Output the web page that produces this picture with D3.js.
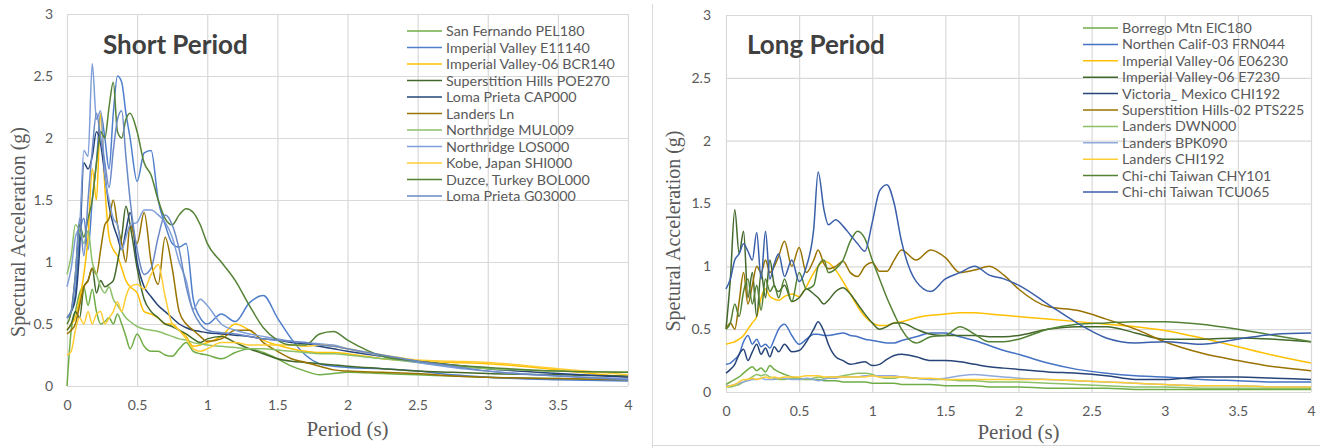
<!DOCTYPE html>
<html>
<head>
<meta charset="utf-8">
<script src="https://cdn.jsdelivr.net/npm/d3@7"></script>
<style>
  body { margin: 0; background: #fff; }
  svg text { font-family: Lato, "Open Sans", sans-serif; }
</style>
</head>
<body>
<div id="chart"></div>
<script>
// ---- data ----
const xTicks = [0, 0.5, 1, 1.5, 2, 2.5, 3, 3.5, 4];
const yTicks = [0, 0.5, 1, 1.5, 2, 2.5, 3];

// short period panel
const periodsShort = [0, 0.03, 0.06, 0.09, 0.12, 0.15, 0.18, 0.21, 0.24, 0.27,
  0.3, 0.33, 0.36, 0.39, 0.42, 0.45, 0.5, 0.55, 0.6, 0.65,
  0.7, 0.75, 0.8, 0.85, 0.9, 0.95, 1.0, 1.1, 1.2, 1.3,
  1.4, 1.5, 1.6, 1.7, 1.8, 1.9, 2.0, 2.25, 2.5, 2.75,
  3.0, 3.5, 4.0];

const sanFernando = [0.0,0.45,0.6,0.75,0.8,0.65,0.78,0.6,0.5,0.52, 0.55,0.5,0.58,0.5,0.4,0.3,0.42,0.32,0.28,0.28, 0.25,0.24,0.3,0.35,0.28,0.26,0.25,0.22,0.27,0.3, 0.27,0.22,0.16,0.12,0.09,0.1,0.11,0.1,0.09,0.08, 0.07,0.06,0.05];
const imperialE11140 = [0.55,0.6,0.75,1.2,1.35,1.1,1.5,1.8,2.2,2.0, 1.75,2.2,2.5,2.45,2.2,2.0,1.65,1.88,1.9,1.5, 1.3,1.15,1.12,1.15,0.7,0.55,0.5,0.58,0.52,0.67, 0.73,0.55,0.38,0.25,0.18,0.16,0.15,0.14,0.12,0.09, 0.07,0.05,0.04];
const imperialBCR140 = [0.45,0.5,0.55,0.7,0.9,1.2,1.75,1.5,2.2,1.6, 1.2,1.1,1.05,0.95,0.85,0.8,0.75,0.6,0.58,0.55, 0.5,0.5,0.45,0.4,0.32,0.33,0.35,0.4,0.5,0.45, 0.37,0.33,0.3,0.28,0.27,0.27,0.26,0.22,0.2,0.19, 0.18,0.13,0.07];
const superstitionPOE270 = [0.45,0.5,0.6,0.55,0.8,0.85,0.95,0.75,0.85,0.8, 0.82,0.85,1.0,1.2,1.45,1.3,0.95,0.7,0.6,0.55, 0.5,0.48,0.45,0.42,0.38,0.35,0.38,0.4,0.35,0.3, 0.26,0.22,0.2,0.19,0.18,0.17,0.16,0.14,0.12,0.11, 0.1,0.09,0.08];
const lomaCAP000 = [0.55,0.6,0.7,1.1,1.8,1.75,1.85,2.05,1.95,1.7, 1.45,1.3,1.2,1.1,1.25,1.4,1.0,0.8,0.72,0.65, 0.6,0.55,0.5,0.47,0.45,0.44,0.43,0.42,0.41,0.4, 0.38,0.37,0.35,0.34,0.32,0.3,0.28,0.24,0.2,0.17, 0.14,0.1,0.07];
const landersLn = [0.42,0.45,0.5,0.65,0.8,0.85,0.95,0.9,1.1,1.3, 1.35,1.5,1.3,1.15,1.0,1.3,1.15,1.4,1.0,0.82, 1.2,0.95,0.6,0.5,0.45,0.4,0.36,0.38,0.45,0.45, 0.35,0.28,0.22,0.19,0.16,0.13,0.12,0.11,0.1,0.08, 0.07,0.06,0.05];
const northridgeMUL009 = [0.9,1.05,1.3,1.25,1.15,1.25,1.0,0.9,0.8,0.75, 0.8,0.7,0.65,0.6,0.55,0.52,0.48,0.46,0.45,0.44, 0.42,0.4,0.38,0.37,0.35,0.34,0.33,0.32,0.31,0.3, 0.3,0.29,0.28,0.27,0.26,0.26,0.25,0.22,0.19,0.16, 0.14,0.12,0.11];
const northridgeLOS000 = [0.8,0.95,1.2,1.3,1.9,1.85,2.6,2.15,2.22,1.7, 1.5,1.35,1.3,1.1,1.2,1.3,1.32,1.42,1.42,1.38, 1.32,1.2,1.0,0.85,0.62,0.7,0.65,0.5,0.45,0.42, 0.4,0.38,0.36,0.35,0.34,0.33,0.3,0.24,0.19,0.15, 0.12,0.08,0.06];
const kobeSHI000 = [0.25,0.28,0.45,0.55,0.5,0.6,0.5,0.58,0.6,0.5, 0.55,0.6,0.68,0.6,0.72,0.8,0.82,0.78,0.9,0.98, 0.72,0.5,0.45,0.38,0.3,0.28,0.3,0.35,0.35,0.33, 0.33,0.33,0.33,0.32,0.33,0.32,0.3,0.25,0.21,0.2, 0.19,0.14,0.09];
const duzceBOL000 = [0.5,0.6,0.9,1.3,1.2,1.35,1.5,1.8,2.05,2.0, 2.25,2.45,2.05,2.0,2.15,2.2,2.05,1.8,1.7,1.5, 1.35,1.3,1.38,1.43,1.4,1.3,1.15,1.0,0.85,0.65, 0.47,0.37,0.33,0.33,0.42,0.44,0.37,0.24,0.2,0.17, 0.15,0.12,0.11];
const lomaG03000 = [0.55,0.6,0.9,1.35,1.05,1.5,1.9,2.2,2.0,1.8, 1.6,1.9,2.15,2.22,1.85,1.5,1.1,0.9,0.95,1.2, 1.38,1.3,1.1,0.8,0.6,0.5,0.45,0.43,0.42,0.4, 0.38,0.37,0.36,0.35,0.33,0.32,0.3,0.25,0.2,0.16, 0.12,0.08,0.05];

const namesShort = ["San Fernando PEL180", "Imperial Valley E11140", "Imperial Valley-06 BCR140",
  "Superstition Hills POE270", "Loma Prieta CAP000", "Landers Ln", "Northridge MUL009",
  "Northridge LOS000", "Kobe, Japan SHI000", "Duzce, Turkey BOL000", "Loma Prieta G03000"];
const valuesShort = [sanFernando, imperialE11140, imperialBCR140, superstitionPOE270, lomaCAP000,
  landersLn, northridgeMUL009, northridgeLOS000, kobeSHI000, duzceBOL000, lomaG03000];

// long period panel
const periodsLong = [0, 0.03, 0.06, 0.09, 0.12, 0.15, 0.18, 0.21, 0.24, 0.27,
  0.3, 0.33, 0.36, 0.4, 0.45, 0.5, 0.55, 0.6, 0.63, 0.67,
  0.7, 0.75, 0.8, 0.85, 0.9, 0.95, 1.0, 1.05, 1.1, 1.15,
  1.2, 1.3, 1.4, 1.5, 1.6, 1.7, 1.8, 1.9, 2.0, 2.2,
  2.4, 2.6, 2.8, 3.0, 3.25, 3.5, 3.75, 4.0];

const borregoElC180 = [0.06,0.08,0.1,0.12,0.15,0.18,0.2,0.17,0.19,0.16, 0.21,0.18,0.16,0.14,0.12,0.11,0.1,0.1,0.1,0.09, 0.09,0.09,0.08,0.08,0.08,0.08,0.07,0.07,0.07,0.07, 0.06,0.06,0.06,0.05,0.05,0.05,0.04,0.04,0.04,0.03, 0.03,0.03,0.02,0.02,0.02,0.02,0.02,0.02];
const northenFRN044 = [0.22,0.23,0.26,0.3,0.4,0.45,0.38,0.42,0.36,0.38, 0.35,0.42,0.5,0.54,0.45,0.38,0.42,0.46,0.46,0.45, 0.45,0.46,0.47,0.45,0.44,0.42,0.41,0.4,0.39,0.39, 0.41,0.44,0.47,0.47,0.44,0.41,0.37,0.33,0.3,0.23, 0.18,0.15,0.13,0.12,0.1,0.09,0.08,0.08];
const imperialE06230 = [0.38,0.39,0.4,0.42,0.45,0.5,0.55,0.6,0.75,0.82, 0.76,0.74,0.73,0.76,0.78,0.76,0.84,0.95,1.0,1.04, 1.03,0.97,0.88,0.78,0.68,0.6,0.55,0.53,0.53,0.55, 0.56,0.59,0.61,0.62,0.63,0.63,0.62,0.61,0.6,0.58, 0.56,0.54,0.52,0.49,0.43,0.36,0.29,0.23];
const imperialE7230 = [0.5,0.9,1.45,1.1,1.28,0.75,0.95,0.6,0.95,0.75, 1.05,0.85,0.8,0.85,0.72,0.75,0.82,0.78,0.75,0.7, 0.73,0.8,0.83,0.78,0.7,0.62,0.55,0.5,0.52,0.55, 0.55,0.5,0.46,0.45,0.45,0.45,0.44,0.44,0.45,0.5, 0.52,0.52,0.47,0.42,0.42,0.43,0.42,0.4];
const victoriaCHI192 = [0.15,0.18,0.22,0.3,0.34,0.25,0.32,0.38,0.3,0.35, 0.28,0.36,0.32,0.38,0.32,0.33,0.4,0.5,0.56,0.48, 0.38,0.28,0.25,0.22,0.23,0.24,0.21,0.22,0.26,0.29, 0.3,0.28,0.25,0.25,0.24,0.22,0.2,0.19,0.18,0.16, 0.15,0.13,0.1,0.1,0.12,0.12,0.11,0.1];
const superstitionPTS225 = [0.5,0.55,0.5,0.72,0.95,0.7,0.85,1.0,0.95,1.05, 0.95,1.0,1.08,1.2,1.0,1.15,0.95,1.05,1.13,1.02, 0.98,1.0,1.04,0.95,0.92,1.0,1.03,0.96,0.96,1.05, 1.13,1.05,1.13,1.07,0.95,0.97,1.0,0.93,0.82,0.68, 0.65,0.58,0.5,0.4,0.31,0.25,0.2,0.17];
const landersDWN000 = [0.04,0.04,0.05,0.06,0.08,0.1,0.12,0.14,0.13,0.14, 0.12,0.11,0.1,0.1,0.11,0.1,0.1,0.11,0.12,0.11, 0.12,0.12,0.13,0.14,0.15,0.15,0.14,0.12,0.11,0.11, 0.12,0.11,0.1,0.1,0.09,0.09,0.08,0.08,0.08,0.07, 0.06,0.05,0.04,0.04,0.03,0.03,0.03,0.03];
const landersBPK090 = [0.05,0.05,0.06,0.07,0.08,0.09,0.1,0.1,0.11,0.1, 0.1,0.1,0.11,0.11,0.1,0.1,0.11,0.1,0.09,0.1, 0.11,0.11,0.12,0.12,0.12,0.13,0.13,0.13,0.13,0.13, 0.12,0.11,0.1,0.11,0.13,0.14,0.13,0.12,0.11,0.1, 0.09,0.08,0.07,0.06,0.05,0.05,0.04,0.04];
const landersCHI192 = [0.04,0.05,0.06,0.08,0.1,0.1,0.11,0.1,0.11,0.12, 0.11,0.12,0.11,0.12,0.12,0.12,0.13,0.13,0.13,0.12, 0.12,0.12,0.12,0.12,0.12,0.12,0.13,0.12,0.12,0.12, 0.12,0.11,0.11,0.1,0.1,0.1,0.1,0.1,0.1,0.1, 0.09,0.08,0.07,0.06,0.05,0.05,0.04,0.04];
const chichiCHY101 = [0.5,0.55,0.7,0.6,0.8,0.9,0.7,0.85,0.65,0.9, 0.8,0.85,0.75,0.9,0.72,0.95,0.82,0.85,1.0,1.05, 0.95,0.98,1.05,1.2,1.28,1.22,1.05,0.9,0.75,0.62, 0.5,0.39,0.44,0.45,0.52,0.46,0.4,0.4,0.42,0.5, 0.54,0.55,0.56,0.56,0.54,0.5,0.45,0.4];
const chichiTCU065 = [0.82,0.9,1.05,1.1,1.18,1.12,1.05,1.27,0.9,1.28, 0.9,1.02,1.1,0.92,1.05,0.88,1.0,1.3,1.75,1.45, 1.33,1.37,1.32,1.25,1.18,1.12,1.35,1.6,1.65,1.5, 1.2,0.88,0.8,0.9,0.95,1.0,0.93,0.9,0.85,0.7, 0.55,0.43,0.39,0.4,0.38,0.42,0.46,0.47];

const namesLong = ["Borrego Mtn ElC180", "Northen Calif-03 FRN044", "Imperial Valley-06 E06230",
  "Imperial Valley-06 E7230", "Victoria_ Mexico CHI192", "Superstition Hills-02 PTS225",
  "Landers DWN000", "Landers BPK090", "Landers CHI192", "Chi-chi Taiwan CHY101", "Chi-chi Taiwan TCU065"];
const valuesLong = [borregoElC180, northenFRN044, imperialE06230, imperialE7230, victoriaCHI192,
  superstitionPTS225, landersDWN000, landersBPK090, landersCHI192, chichiCHY101, chichiTCU065];

const colorsShort = ["#70AD47", "#4F7FCC", "#FFC000", "#43682B", "#264478", "#997300",
  "#8CC168", "#7F9FD9", "#FFCD33", "#548235", "#6A89C6"];
const colorsLong = ["#70AD47", "#4472C4", "#FFC000", "#43682B", "#264478", "#997300",
  "#8CC168", "#8FAADC", "#FFCD33", "#548235", "#3A5FAA"];

// ---- chart ----
const svg = d3.select("#chart").append("svg")
    .attr("width", 1320)
    .attr("height", 448);

// panel frame lines
svg.append("line").attr("x1", 652.5).attr("x2", 652.5).attr("y1", 4).attr("y2", 448)
    .attr("stroke", "#d9d9d9");
svg.append("line").attr("x1", 652).attr("x2", 1320).attr("y1", 445.5).attr("y2", 445.5)
    .attr("stroke", "#d9d9d9");

function drawPanel(p) {
  const x = d3.scaleLinear().domain([0, 4]).range([p.left, p.right]);
  const y = d3.scaleLinear().domain([0, 3]).range([p.bottom, p.top]);

  const gx = svg.append("g")
      .attr("transform", `translate(0,${p.bottom})`)
      .call(d3.axisBottom(x).tickValues(xTicks).tickFormat(d => String(d))
        .tickSize(-(p.bottom - p.top)).tickPadding(14));
  const gy = svg.append("g")
      .attr("transform", `translate(${p.left},0)`)
      .call(d3.axisLeft(y).tickValues(yTicks).tickFormat(d => String(d))
        .tickSize(-(p.right - p.left)).tickPadding(p.yPad));
  [gx, gy].forEach(g => {
    g.select(".domain").remove();
    g.selectAll(".tick line").attr("stroke", "#d9d9d9").attr("stroke-width", 1.2);
    g.selectAll(".tick text").attr("fill", "#595959").style("font-size", "14px");
  });

  const line = d3.line()
      .x((d, i) => x(p.periods[i]))
      .y(d => y(d))
      .curve(d3.curveMonotoneX);

  svg.append("g").selectAll("path")
    .data(p.values)
    .join("path")
      .attr("d", d => line(d))
      .attr("fill", "none")
      .attr("stroke", (d, i) => p.colors[i])
      .attr("stroke-width", 1.5)
      .attr("stroke-linejoin", "round");

  // title
  svg.append("text")
      .attr("x", p.titleX).attr("y", 54)
      .attr("fill", "#404040")
      .style("font-size", "26px").style("font-weight", "bold")
      .text(p.title);

  // legend
  const leg = svg.append("g");
  p.names.forEach((n, i) => {
    const ly = p.legY + i * p.legStep;
    leg.append("line")
        .attr("x1", p.legX).attr("x2", p.legX + 35)
        .attr("y1", ly).attr("y2", ly)
        .attr("stroke", p.colors[i]).attr("stroke-width", 1.5);
    leg.append("text")
        .attr("x", p.legX + 39).attr("y", ly)
        .attr("dy", "0.35em")
        .attr("fill", "#595959")
        .style("font-size", "14.3px")
        .text(n);
  });

  // axis titles
  svg.append("text")
      .attr("transform", `translate(${p.yTitleX},${p.yTitleY}) rotate(-90)`)
      .attr("text-anchor", "middle")
      .attr("dy", "0.35em")
      .attr("fill", "#595959")
      .style("font-family", "'Liberation Serif', 'DejaVu Serif', serif")
      .style("font-size", "20px")
      .text(p.yTitle);
  svg.append("text")
      .attr("x", (p.left + p.right) / 2).attr("y", p.xTitleY)
      .attr("text-anchor", "middle")
      .attr("fill", "#595959")
      .style("font-family", "'Liberation Serif', 'DejaVu Serif', serif")
      .style("font-size", "21px")
      .text("Period (s)");
}

drawPanel({
  left: 67, right: 628, top: 14, bottom: 386, yPad: 14,
  periods: periodsShort, values: valuesShort, names: namesShort, colors: colorsShort,
  title: "Short Period", titleX: 103,
  legX: 407, legY: 31, legStep: 16.5,
  yTitle: "Spectural Acceleration (g)", yTitleX: 18, yTitleY: 232, xTitleY: 436
});

drawPanel({
  left: 726, right: 1311, top: 15, bottom: 392, yPad: 15,
  periods: periodsLong, values: valuesLong, names: namesLong, colors: colorsLong,
  title: "Long Period", titleX: 747,
  legX: 1083, legY: 28, legStep: 16.4,
  yTitle: "Spetural Acceleration (g)", yTitleX: 673, yTitleY: 231, xTitleY: 439
});
</script>
</body>
</html>
